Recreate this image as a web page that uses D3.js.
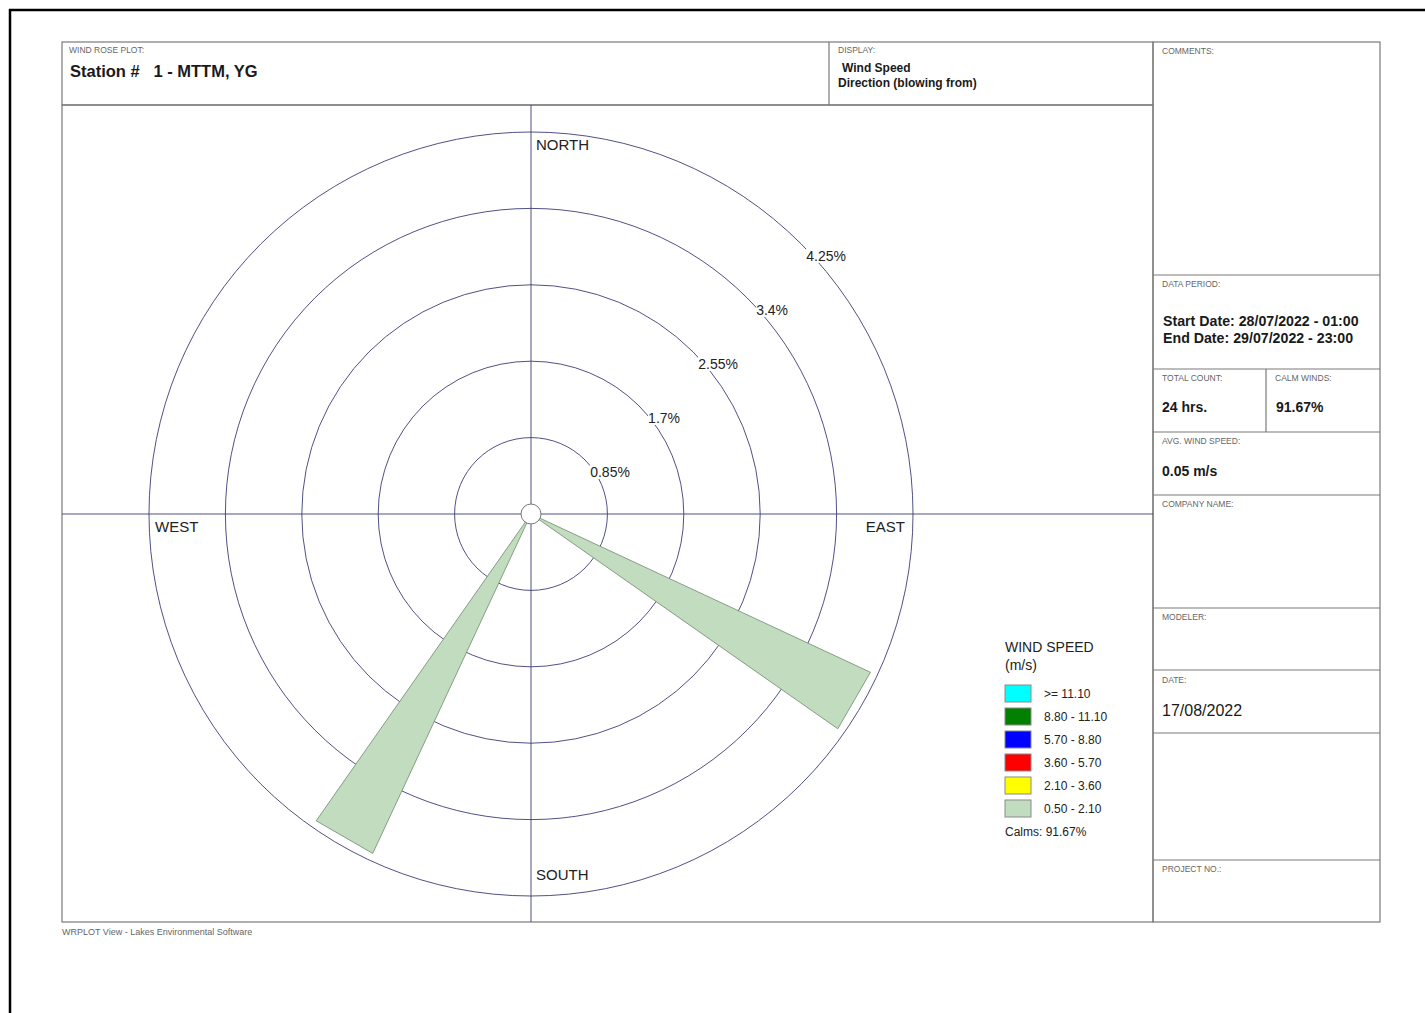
<!DOCTYPE html>
<html>
<head>
<meta charset="utf-8">
<script src="https://cdn.jsdelivr.net/npm/d3@7"></script>
<style>
  body { margin: 0; background: #fff; }
  svg { display: block; font-family: Arial, "Liberation Sans", sans-serif; }
  text { white-space: pre; }
</style>
</head>
<body>
<div id="chart"></div>
<script>
// wind rose data (direction = bearing the wind blows from, degrees)
const directions = [120, 210];
const frequencies = [4.1667, 4.1667]; // % of total hours, 0.50 - 2.10 m/s bin
const sectorWidth = 10;
const ringTicks = [0.85, 1.7, 2.55, 3.4, 4.25];
const ringLabels = ["0.85%", "1.7%", "2.55%", "3.4%", "4.25%"];
const speedBins = [">= 11.10", "8.80 - 11.10", "5.70 - 8.80", "3.60 - 5.70", "2.10 - 3.60", "0.50 - 2.10"];
const binColors = ["#00ffff", "#007f00", "#0000ff", "#ff0000", "#ffff00", "#c2dcc0"];
const calms = "91.67%";

const width = 1425, height = 1013;
const cx = 531, cy = 514;

const svg = d3.select("#chart").append("svg")
    .attr("width", width)
    .attr("height", height);

// page border
svg.append("line").attr("x1", 9).attr("x2", width).attr("y1", 10).attr("y2", 10)
    .attr("stroke", "#000").attr("stroke-width", 2.5);
svg.append("line").attr("x1", 10).attr("x2", 10).attr("y1", 9).attr("y2", height)
    .attr("stroke", "#000").attr("stroke-width", 2.5);

const boxStroke = "#7a7a7a";

function box(x, y, w, h) {
    svg.append("rect").attr("x", x).attr("y", y).attr("width", w).attr("height", h)
        .attr("fill", "none").attr("stroke", boxStroke).attr("stroke-width", 1.2);
}
function smallLabel(x, y, t) {
    svg.append("text").attr("x", x).attr("y", y)
        .style("font-size", "8.5px").style("fill", "#666").text(t);
}
function bigText(x, y, t, size, weight) {
    svg.append("text").attr("x", x).attr("y", y)
        .style("font-size", (size || 14) + "px")
        .style("font-weight", weight || "bold")
        .style("fill", "#1a1a1a").text(t);
}

// header
box(62, 42, 1091, 63);
svg.append("line").attr("x1", 829).attr("x2", 829).attr("y1", 42).attr("y2", 105)
    .attr("stroke", boxStroke).attr("stroke-width", 1.2);
smallLabel(69, 53, "WIND ROSE PLOT:");
bigText(70, 77, "Station #   1 - MTTM, YG", 16.5);
smallLabel(838, 53, "DISPLAY:");
bigText(842, 72, "Wind Speed", 12);
bigText(838, 87, "Direction (blowing from)", 12);

// plot frame
box(62, 105, 1091, 817);

// right panel
box(1153, 42, 227, 880);
const dividers = [275, 369, 432, 495, 608, 670, 733, 860];
dividers.forEach(y => {
    svg.append("line").attr("x1", 1153).attr("x2", 1380).attr("y1", y).attr("y2", y)
        .attr("stroke", boxStroke).attr("stroke-width", 1.2);
});
svg.append("line").attr("x1", 1266).attr("x2", 1266).attr("y1", 369).attr("y2", 432)
    .attr("stroke", boxStroke).attr("stroke-width", 1.2);

smallLabel(1162, 54, "COMMENTS:");
smallLabel(1162, 287, "DATA PERIOD:");
bigText(1163, 326, "Start Date: 28/07/2022 - 01:00", 14.2);
bigText(1163, 343, "End Date: 29/07/2022 - 23:00", 14.2);
smallLabel(1162, 381, "TOTAL COUNT:");
smallLabel(1275, 381, "CALM WINDS:");
bigText(1162, 412, "24 hrs.", 14);
bigText(1276, 412, calms, 14);
smallLabel(1162, 444, "AVG. WIND SPEED:");
bigText(1162, 476, "0.05 m/s", 14);
smallLabel(1162, 507, "COMPANY NAME:");
smallLabel(1162, 620, "MODELER:");
smallLabel(1162, 683, "DATE:");
bigText(1162, 716, "17/08/2022", 16, "normal");
smallLabel(1162, 872, "PROJECT NO.:");

// footer
svg.append("text").attr("x", 62).attr("y", 935)
    .style("font-size", "9px").style("fill", "#666")
    .text("WRPLOT View - Lakes Environmental Software");

// wind rose
const r = d3.scaleLinear().domain([0, 4.25]).range([0, 382]);
const gridColor = "#3d3d78";

const rose = svg.append("g");

rose.selectAll(".ring").data(ringTicks).join("circle")
    .attr("cx", cx).attr("cy", cy)
    .attr("r", d => r(d))
    .attr("fill", "none").attr("stroke", gridColor).attr("stroke-width", 0.9);

rose.append("line").attr("x1", 62).attr("x2", 1153).attr("y1", cy).attr("y2", cy)
    .attr("stroke", gridColor).attr("stroke-width", 0.9);
rose.append("line").attr("x1", cx).attr("x2", cx).attr("y1", 105).attr("y2", 922)
    .attr("stroke", gridColor).attr("stroke-width", 0.9);

// petals
const petal = d3.lineRadial()
    .angle(d => d.a * Math.PI / 180)
    .radius(d => r(d.v));

const petals = directions.map((dir, i) => [
    {a: dir, v: 0},
    {a: dir - sectorWidth / 2, v: frequencies[i]},
    {a: dir + sectorWidth / 2, v: frequencies[i]}
]);

rose.selectAll(".petal").data(petals).join("path")
    .attr("transform", `translate(${cx},${cy})`)
    .attr("d", d => petal(d) + "Z")
    .attr("fill", binColors[5])
    .attr("stroke", "#6f8a6c")
    .attr("stroke-width", 0.8);

// center circle
rose.append("circle").attr("cx", cx).attr("cy", cy).attr("r", 10)
    .attr("fill", "#fff").attr("stroke", "#777").attr("stroke-width", 1);

// ring labels
const lab = rose.selectAll(".ringlab").data(ringTicks).join("g")
    .attr("transform", d => `translate(${cx + r(d) * Math.SQRT1_2 + 25},${cy - r(d) * Math.SQRT1_2 + 12})`);
lab.append("rect")
    .attr("x", (d, i) => -ringLabels[i].length * 4)
    .attr("y", -7)
    .attr("width", (d, i) => ringLabels[i].length * 8)
    .attr("height", 14)
    .attr("fill", "#fff");
lab.append("text")
    .attr("text-anchor", "middle")
    .attr("dy", "0.35em")
    .style("font-size", "14px")
    .style("fill", "#222")
    .text((d, i) => ringLabels[i]);

// compass labels
const compassStyle = s => s.style("font-size", "15px").style("fill", "#222");
rose.append("text").attr("x", cx + 5).attr("y", cy - r(4.25) + 18)
    .call(compassStyle).text("NORTH");
rose.append("text").attr("x", cx + 5).attr("y", cy + r(4.25) - 16)
    .call(compassStyle).text("SOUTH");
rose.append("text").attr("x", cx - r(4.25) + 6).attr("y", cy + 18)
    .call(compassStyle).text("WEST");
rose.append("text").attr("x", cx + r(4.25) - 8).attr("y", cy + 18)
    .attr("text-anchor", "end")
    .call(compassStyle).text("EAST");

// legend
const legend = svg.append("g").attr("transform", "translate(1005,0)");
legend.append("text").attr("x", 0).attr("y", 652)
    .style("font-size", "14px").style("fill", "#222").text("WIND SPEED");
legend.append("text").attr("x", 0).attr("y", 670)
    .style("font-size", "14px").style("fill", "#222").text("(m/s)");

const item = legend.selectAll(".item").data(speedBins).join("g")
    .attr("transform", (d, i) => `translate(0,${685 + i * 23})`);
item.append("rect")
    .attr("width", 26).attr("height", 17)
    .attr("fill", (d, i) => binColors[i])
    .attr("stroke", "#8a8a8a").attr("stroke-width", 1);
item.append("text")
    .attr("x", 39).attr("y", 13)
    .style("font-size", "12px").style("fill", "#222")
    .text(d => d);

legend.append("text").attr("x", 0).attr("y", 836)
    .style("font-size", "12px").style("fill", "#222").text("Calms: " + calms);
</script>
</body>
</html>
